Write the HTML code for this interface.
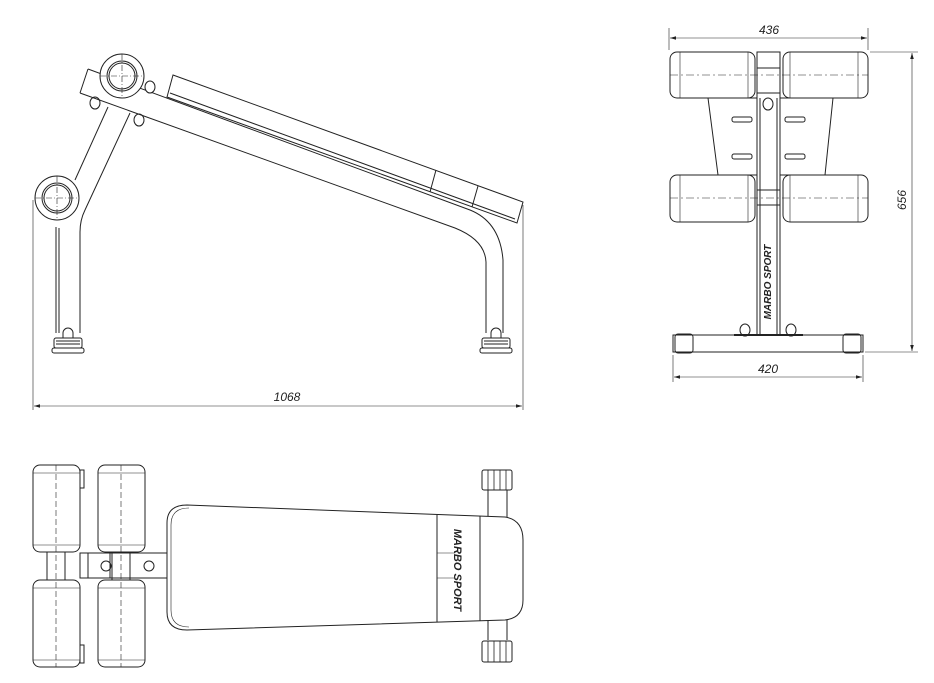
<!DOCTYPE html>
<html><head><meta charset="utf-8"><style>
html,body{margin:0;padding:0;background:#fff;}
svg{display:block;}
text{font-family:"Liberation Sans",sans-serif;font-style:italic;font-size:12px;fill:#222;}
</style></head><body>
<svg width="934" height="683" viewBox="0 0 934 683" xmlns="http://www.w3.org/2000/svg">
<defs>
<marker id="ar" viewBox="0 0 10 6" refX="10" refY="3" markerWidth="10" markerHeight="6" orient="auto-start-reverse"><path d="M0,0 L10,3 L0,6 z" fill="#222"/></marker>
</defs>
<g fill="none" stroke="#222" stroke-width="1">
<!-- SIDE VIEW -->
<path d="M88,69 L470,210 Q500,222 503,260 L503,333"/>
<path d="M80,93 L455,228 Q485,240 486,262 L486,333"/>
<path d="M88,69 L80,93"/>
<path d="M173,75 L523,202 L517,223 L167,97 Z" fill="#fff"/>
<line x1="170" y1="93" x2="515" y2="219"/>
<line x1="436" y1="170" x2="430" y2="192"/>
<line x1="478" y1="186" x2="472" y2="207"/>
<path d="M108,107 L75,180"/>
<path d="M130,113 L85,210 Q80,220 80,232 L80,333"/>
<path d="M56,227 L56,333"/>
<line x1="59" y1="228" x2="59" y2="333"/>
<circle cx="122" cy="76" r="22" fill="#fff"/><circle cx="122" cy="76" r="15"/><circle cx="122" cy="76" r="13"/>
<circle cx="57" cy="198" r="22" fill="#fff"/><circle cx="57" cy="198" r="15"/><circle cx="57" cy="198" r="13"/>
<g stroke-dasharray="6,2,1,2" stroke-width="0.6"><line x1="100" y1="76" x2="144" y2="76"/><line x1="122" y1="54" x2="122" y2="98"/><line x1="35" y1="198" x2="79" y2="198"/><line x1="57" y1="176" x2="57" y2="220"/></g>
<ellipse cx="95" cy="103" rx="5" ry="6"/><ellipse cx="150" cy="87" rx="5" ry="6" fill="#fff"/><ellipse cx="139" cy="120" rx="5" ry="6"/>
<path d="M63,333 a5,5 0 0 1 10,0 v5 h-10z"/>
<rect x="54" y="338" width="28" height="10" rx="2"/><rect x="52" y="348" width="32" height="5" rx="2"/>
<line x1="56" y1="341" x2="80" y2="341"/><line x1="56" y1="344" x2="80" y2="344"/>
<path d="M491,333 a5,5 0 0 1 10,0 v5 h-10z"/>
<rect x="482" y="338" width="28" height="10" rx="2"/><rect x="480" y="348" width="32" height="5" rx="2"/>
<line x1="484" y1="341" x2="508" y2="341"/><line x1="484" y1="344" x2="508" y2="344"/>
<g stroke-width="0.6"><line x1="33" y1="200" x2="33" y2="410"/><line x1="523" y1="205" x2="523" y2="410"/></g>
<line x1="34" y1="406" x2="522" y2="406" stroke-width="0.6" marker-start="url(#ar)" marker-end="url(#ar)"/>

<!-- FRONT VIEW -->
<path d="M708,98 L833,98 L825,175 L718,175 Z" fill="#fff"/>
<rect x="757" y="52" width="23" height="283" fill="#fff"/>
<line x1="760" y1="98" x2="760" y2="335"/><line x1="777" y1="98" x2="777" y2="335"/>
<rect x="670" y="52" width="85" height="46" rx="7" fill="#fff"/><rect x="783" y="52" width="85" height="46" rx="7" fill="#fff"/>
<rect x="670" y="175" width="85" height="47" rx="7" fill="#fff"/><rect x="783" y="175" width="85" height="47" rx="7" fill="#fff"/>
<g stroke-width="0.6"><line x1="680" y1="52" x2="680" y2="98"/><line x1="858" y1="52" x2="858" y2="98"/><line x1="680" y1="175" x2="680" y2="222"/><line x1="858" y1="175" x2="858" y2="222"/>
<line x1="748" y1="52" x2="748" y2="98"/><line x1="790" y1="52" x2="790" y2="98"/><line x1="748" y1="175" x2="748" y2="222"/><line x1="790" y1="175" x2="790" y2="222"/></g>
<g stroke-dasharray="8,3,2,3" stroke-width="0.6"><line x1="670" y1="75" x2="868" y2="75"/><line x1="670" y1="198" x2="868" y2="198"/></g>
<rect x="757" y="68" width="23" height="25"/><rect x="757" y="190" width="23" height="15"/>
<ellipse cx="768" cy="104" rx="5" ry="6"/>
<g><rect x="732" y="117" width="20" height="5" rx="2"/><rect x="785" y="117" width="20" height="5" rx="2"/>
<rect x="732" y="154" width="20" height="5" rx="2"/><rect x="785" y="154" width="20" height="5" rx="2"/></g>
<rect x="673" y="335" width="190" height="17" fill="#fff"/>
<rect x="675" y="334" width="18" height="19" rx="3"/><rect x="843" y="334" width="18" height="19" rx="3"/>
<ellipse cx="745" cy="330" rx="5" ry="6"/><ellipse cx="791" cy="330" rx="5" ry="6"/>
<line x1="734" y1="335" x2="803" y2="335" stroke-width="2"/>
<g stroke-width="0.6"><line x1="669" y1="28" x2="669" y2="50"/><line x1="868" y1="28" x2="868" y2="50"/>
<line x1="870" y1="52" x2="918" y2="52"/><line x1="865" y1="352" x2="918" y2="352"/>
<line x1="673" y1="355" x2="673" y2="382"/><line x1="863" y1="355" x2="863" y2="382"/></g>
<line x1="670" y1="38" x2="867" y2="38" stroke-width="0.6" marker-start="url(#ar)" marker-end="url(#ar)"/>
<line x1="912" y1="53" x2="912" y2="351" stroke-width="0.6" marker-start="url(#ar)" marker-end="url(#ar)"/>
<line x1="674" y1="377" x2="862" y2="377" stroke-width="0.6" marker-start="url(#ar)" marker-end="url(#ar)"/>

<!-- TOP VIEW -->
<rect x="80" y="553" width="88" height="25" fill="#fff"/>
<line x1="88" y1="553" x2="88" y2="578"/><line x1="110" y1="553" x2="110" y2="578"/>
<rect x="47" y="552" width="18" height="28"/><rect x="112" y="552" width="18" height="28"/>
<circle cx="106" cy="566" r="5"/><circle cx="149" cy="566" r="5"/>
<rect x="33" y="465" width="47" height="87" rx="7" fill="#fff"/><rect x="33" y="580" width="47" height="87" rx="7" fill="#fff"/>
<rect x="98" y="465" width="47" height="87" rx="7" fill="#fff"/><rect x="98" y="580" width="47" height="87" rx="7" fill="#fff"/>
<g stroke-width="0.6"><line x1="33" y1="473" x2="80" y2="473"/><line x1="33" y1="545" x2="80" y2="545"/><line x1="33" y1="588" x2="80" y2="588"/><line x1="33" y1="660" x2="80" y2="660"/>
<line x1="98" y1="473" x2="145" y2="473"/><line x1="98" y1="545" x2="145" y2="545"/><line x1="98" y1="588" x2="145" y2="588"/><line x1="98" y1="660" x2="145" y2="660"/></g>
<g stroke-dasharray="6,3" stroke-width="0.6"><line x1="56" y1="465" x2="56" y2="667"/><line x1="121" y1="465" x2="121" y2="667"/></g>
<rect x="80" y="470" width="4" height="18"/><rect x="80" y="645" width="4" height="18"/>
<line x1="488" y1="490" x2="488" y2="518"/><line x1="507" y1="490" x2="507" y2="518"/>
<line x1="488" y1="619" x2="488" y2="640"/><line x1="507" y1="619" x2="507" y2="640"/>
<rect x="482" y="470" width="30" height="20" rx="2" fill="#fff"/><rect x="482" y="641" width="30" height="21" rx="2" fill="#fff"/>
<g stroke-width="0.8"><line x1="488" y1="470" x2="488" y2="490"/><line x1="494" y1="470" x2="494" y2="490"/><line x1="500" y1="470" x2="500" y2="490"/><line x1="506" y1="470" x2="506" y2="490"/>
<line x1="488" y1="641" x2="488" y2="662"/><line x1="494" y1="641" x2="494" y2="662"/><line x1="500" y1="641" x2="500" y2="662"/><line x1="506" y1="641" x2="506" y2="662"/></g>
<path d="M187,505 L505,517 Q523,520 523,540 L523,600 Q523,618 505,620 L187,630 Q167,630 167,612 L167,523 Q167,505 187,505 Z" fill="#fff"/>
<path d="M189,508 Q171,508 171,525 L171,610 Q171,627 189,627" stroke-width="0.6"/>
<line x1="437" y1="515" x2="437" y2="622"/><line x1="480" y1="516" x2="480" y2="621"/>
<g stroke-width="0.6"><line x1="437" y1="553" x2="455" y2="553"/><line x1="437" y1="578" x2="455" y2="578"/></g>
</g>
<g transform="translate(454,570) rotate(90)"><text x="0" y="0" text-anchor="middle" style="font-size:11px;font-weight:bold;">MARBO SPORT</text></g>
<g transform="translate(771,282) rotate(-90)"><text x="0" y="0" text-anchor="middle" style="font-size:10px;font-weight:bold;">MARBO SPORT</text></g>
<text x="287" y="401" text-anchor="middle">1068</text>
<text x="769" y="34" text-anchor="middle">436</text>
<text x="768" y="373" text-anchor="middle">420</text>
<g transform="translate(906,200) rotate(-90)"><text x="0" y="0" text-anchor="middle">656</text></g>
</svg>
</body></html>
